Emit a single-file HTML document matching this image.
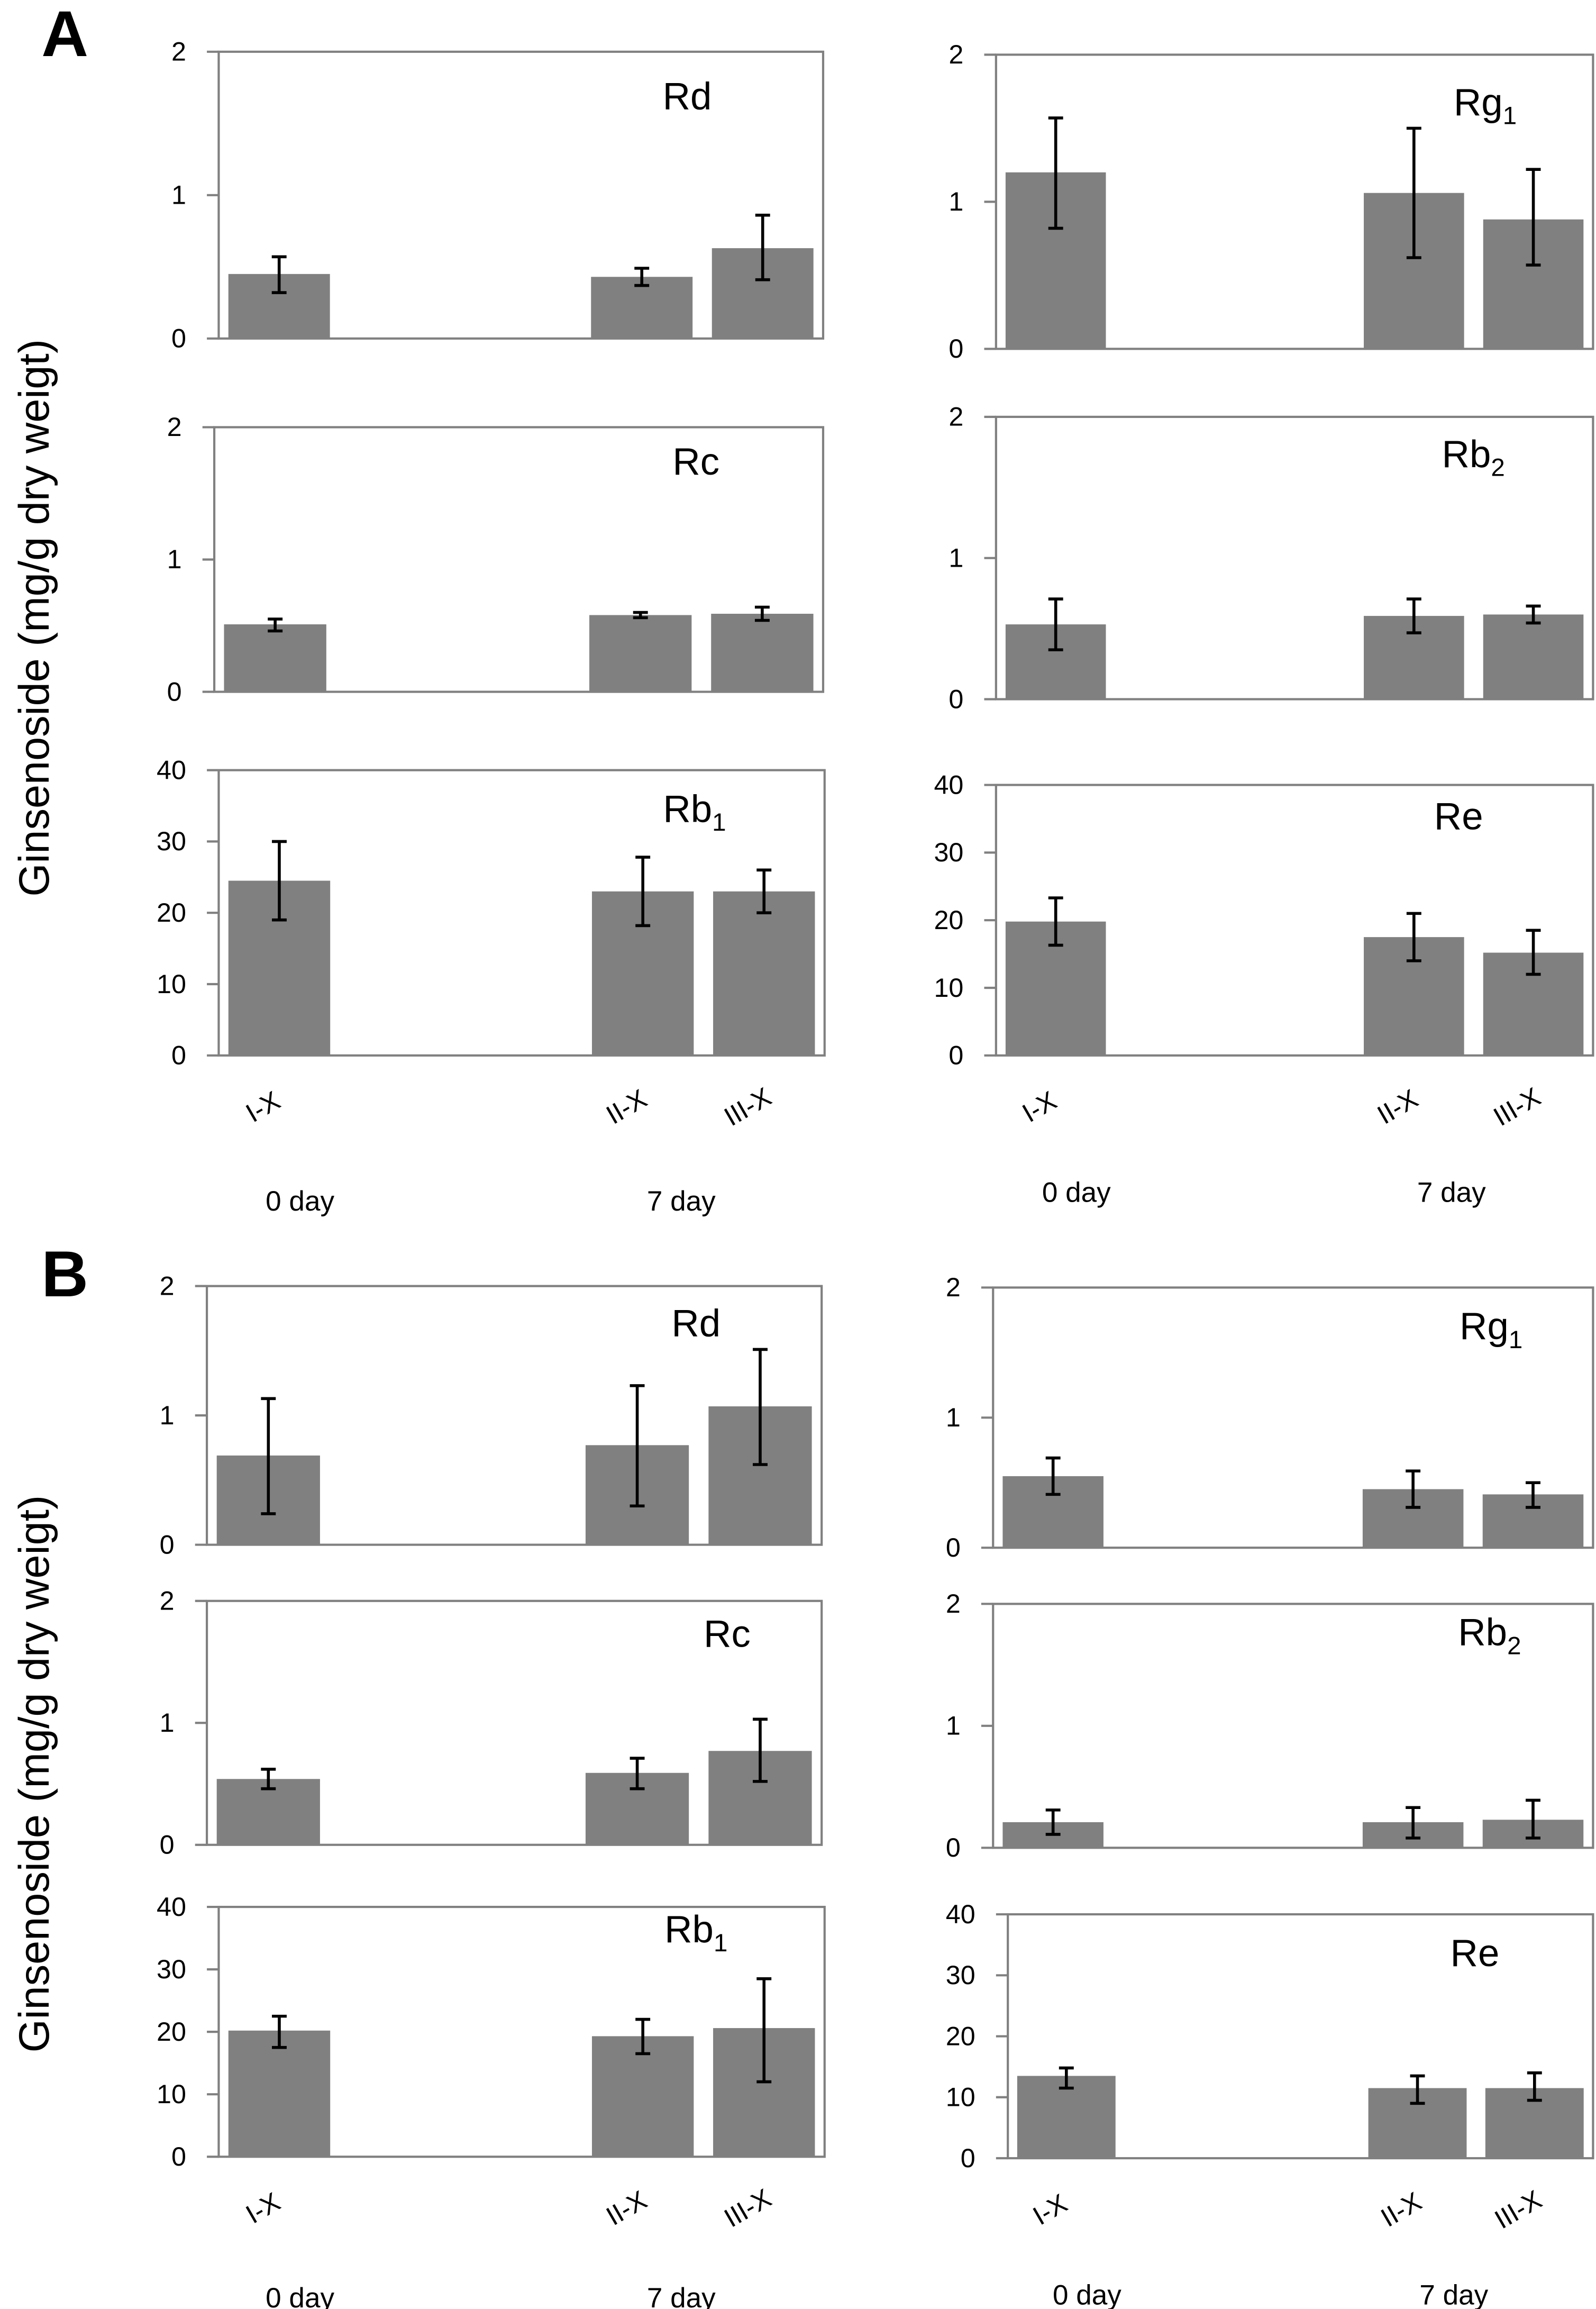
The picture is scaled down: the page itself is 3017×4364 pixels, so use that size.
<!DOCTYPE html>
<html><head><meta charset="utf-8">
<style>
html,body{margin:0;padding:0;background:#fff;}
svg{display:block;}
text{font-family:"Liberation Sans","DejaVu Sans",sans-serif;fill:#000;}
</style></head>
<body>
<svg id="fig" width="3017" height="4364" viewBox="0 0 1080 1562" preserveAspectRatio="none" xmlns="http://www.w3.org/2000/svg">
<text x="28" y="38" font-size="44" font-weight="bold">A</text>
<text x="28" y="877" font-size="44" font-weight="bold">B</text>
<text transform="translate(33,418) rotate(-90)" text-anchor="middle" font-size="29">Ginsenoside  (mg/g dry weigt)</text>
<text transform="translate(33,1200) rotate(-90)" text-anchor="middle" font-size="29">Ginsenoside  (mg/g dry weigt)</text>
</svg>
<script>
const categories = ["I-X","","","II-X","III-X"];
const dayLabels = ["0 day","7 day"];
const smallTicks = [0,1,2];
const bigTicks = [0,10,20,30,40];

const A_Rd_vals=[0.45,null,null,0.43,0.63], A_Rd_lo=[0.32,null,null,0.37,0.41], A_Rd_hi=[0.57,null,null,0.49,0.86];
const A_Rc_vals=[0.51,null,null,0.58,0.59], A_Rc_lo=[0.46,null,null,0.56,0.54], A_Rc_hi=[0.55,null,null,0.60,0.64];
const A_Rb1_vals=[24.5,null,null,23,23], A_Rb1_lo=[19,null,null,18.2,20], A_Rb1_hi=[30,null,null,27.8,26];
const A_Rg1_vals=[1.2,null,null,1.06,0.88], A_Rg1_lo=[0.82,null,null,0.62,0.57], A_Rg1_hi=[1.57,null,null,1.5,1.22];
const A_Rb2_vals=[0.53,null,null,0.59,0.60], A_Rb2_lo=[0.35,null,null,0.47,0.54], A_Rb2_hi=[0.71,null,null,0.71,0.66];
const A_Re_vals=[19.8,null,null,17.5,15.2], A_Re_lo=[16.3,null,null,14,12], A_Re_hi=[23.3,null,null,21,18.5];
const B_Rd_vals=[0.69,null,null,0.77,1.07], B_Rd_lo=[0.24,null,null,0.30,0.62], B_Rd_hi=[1.13,null,null,1.23,1.51];
const B_Rc_vals=[0.54,null,null,0.59,0.77], B_Rc_lo=[0.46,null,null,0.46,0.52], B_Rc_hi=[0.62,null,null,0.71,1.03];
const B_Rb1_vals=[20.2,null,null,19.3,20.6], B_Rb1_lo=[17.5,null,null,16.5,12], B_Rb1_hi=[22.5,null,null,22,28.5];
const B_Rg1_vals=[0.55,null,null,0.45,0.41], B_Rg1_lo=[0.41,null,null,0.31,0.31], B_Rg1_hi=[0.69,null,null,0.59,0.50];
const B_Rb2_vals=[0.21,null,null,0.21,0.23], B_Rb2_lo=[0.11,null,null,0.08,0.08], B_Rb2_hi=[0.31,null,null,0.33,0.39];
const B_Re_vals=[13.5,null,null,11.5,11.5], B_Re_lo=[11.5,null,null,9,9.5], B_Re_hi=[14.8,null,null,13.5,14];

const NS="http://www.w3.org/2000/svg";
const svg=document.getElementById('fig');
function el(tag,attrs,parent){const e=document.createElementNS(NS,tag);for(const k in attrs)e.setAttribute(k,attrs[k]);(parent||svg).appendChild(e);return e;}

const panels=[
 {id:'a-rd',name:'Rd',sub:'',x0:148,x1:557,y0:35,y1:229,ticks:smallTicks,max:2,vals:A_Rd_vals,lo:A_Rd_lo,hi:A_Rd_hi,lx:465,ly:74},
 {id:'a-rc',name:'Rc',sub:'',x0:145,x1:557,y0:289,y1:468,ticks:smallTicks,max:2,vals:A_Rc_vals,lo:A_Rc_lo,hi:A_Rc_hi,lx:471,ly:321},
 {id:'a-rb1',name:'Rb',sub:'1',x0:148,x1:558,y0:521,y1:714,ticks:bigTicks,max:40,vals:A_Rb1_vals,lo:A_Rb1_lo,hi:A_Rb1_hi,lx:470,ly:556,xl:true,dy:813},
 {id:'a-rg1',name:'Rg',sub:'1',x0:674,x1:1078,y0:37,y1:236,ticks:smallTicks,max:2,vals:A_Rg1_vals,lo:A_Rg1_lo,hi:A_Rg1_hi,lx:1005,ly:78},
 {id:'a-rb2',name:'Rb',sub:'2',x0:674,x1:1078,y0:282,y1:473,ticks:smallTicks,max:2,vals:A_Rb2_vals,lo:A_Rb2_lo,hi:A_Rb2_hi,lx:997,ly:316},
 {id:'a-re',name:'Re',sub:'',x0:674,x1:1078,y0:531,y1:714,ticks:bigTicks,max:40,vals:A_Re_vals,lo:A_Re_lo,hi:A_Re_hi,lx:987,ly:561,xl:true,dy:807},
 {id:'b-rd',name:'Rd',sub:'',x0:140,x1:556,y0:870,y1:1045,ticks:smallTicks,max:2,vals:B_Rd_vals,lo:B_Rd_lo,hi:B_Rd_hi,lx:471,ly:904},
 {id:'b-rc',name:'Rc',sub:'',x0:140,x1:556,y0:1083,y1:1248,ticks:smallTicks,max:2,vals:B_Rc_vals,lo:B_Rc_lo,hi:B_Rc_hi,lx:492,ly:1114},
 {id:'b-rb1',name:'Rb',sub:'1',x0:148,x1:558,y0:1290,y1:1459,ticks:bigTicks,max:40,vals:B_Rb1_vals,lo:B_Rb1_lo,hi:B_Rb1_hi,lx:471,ly:1314,xl:true,dy:1555},
 {id:'b-rg1',name:'Rg',sub:'1',x0:672,x1:1078,y0:871,y1:1047,ticks:smallTicks,max:2,vals:B_Rg1_vals,lo:B_Rg1_lo,hi:B_Rg1_hi,lx:1009,ly:906},
 {id:'b-rb2',name:'Rb',sub:'2',x0:672,x1:1078,y0:1085,y1:1250,ticks:smallTicks,max:2,vals:B_Rb2_vals,lo:B_Rb2_lo,hi:B_Rb2_hi,lx:1008,ly:1113},
 {id:'b-re',name:'Re',sub:'',x0:682,x1:1078,y0:1295,y1:1460,ticks:bigTicks,max:40,vals:B_Re_vals,lo:B_Re_lo,hi:B_Re_hi,lx:998,ly:1330,xl:true,dy:1553}
];

panels.forEach(p=>{
 const g=el('g',{});
 
 
 const slot=(p.x1-p.x0)/categories.length;
 const xs=i=>p.x0+slot*(i+0.5);
 const ys=v=>p.y1-(v/p.max)*(p.y1-p.y0);
 const box=el('rect',{x:p.x0,y:p.y0,width:p.x1-p.x0,height:p.y1-p.y0,fill:'none',stroke:'#808080','stroke-width':1.5},g);
 
 
 p.ticks.forEach(t=>{
  const y=ys(t);
  el('line',{x1:p.x0-8,x2:p.x0,y1:y,y2:y,stroke:'#808080','stroke-width':1.5},g);
  const tl=el('text',{x:p.x0-22,y:y+6,'text-anchor':'end','font-size':18},g);
  tl.textContent=t;
  
  
 });
 const bw=slot*0.84;
 p.vals.forEach((v,i)=>{
  if(v===null)return;
  const cx=xs(i);
  const b=el('rect',{x:cx-bw/2,y:ys(v),width:bw,height:p.y1-ys(v),fill:'#808080'},g);
  
  
  const eg=el('g',{stroke:'#000','stroke-width':2},g);
  
  
  el('line',{x1:cx,x2:cx,y1:ys(p.lo[i]),y2:ys(p.hi[i])},eg);
  el('line',{x1:cx-5,x2:cx+5,y1:ys(p.lo[i]),y2:ys(p.lo[i])},eg);
  el('line',{x1:cx-5,x2:cx+5,y1:ys(p.hi[i]),y2:ys(p.hi[i])},eg);
 });
 const t=el('text',{x:p.lx,y:p.ly,'text-anchor':'middle','font-size':26},g);
 t.textContent=p.name;
 if(p.sub){const s=el('tspan',{'font-size':17,dy:6},t);s.textContent=p.sub;}
 
 
 if(p.xl){
  categories.forEach((c,i)=>{
   if(!c)return;
   const x=xs(i)-8, y=p.y1+40;
   const xt=el('text',{x:x,y:y,'text-anchor':'middle','font-size':18,transform:`rotate(-30 ${x} ${y})`},g);
   xt.textContent=c;
   
   
  });
  const dx=[xs(0)+14,(xs(3)+xs(4))/2-15];
  dayLabels.forEach((d,i)=>{
   const dt=el('text',{x:dx[i],y:p.dy+6,'text-anchor':'middle','font-size':19},g);
   dt.textContent=d;
   
   
  });
 }
});
</script>
</body></html>
